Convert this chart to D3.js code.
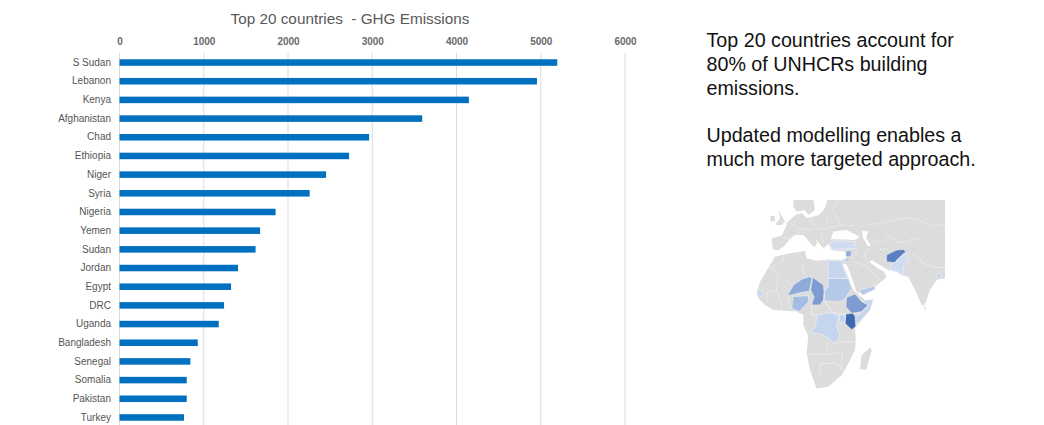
<!DOCTYPE html>
<html>
<head>
<meta charset="utf-8">
<title>Top 20 countries - GHG Emissions</title>
<script src="https://cdn.jsdelivr.net/npm/d3@7"></script>
<style>
    html, body { margin: 0; padding: 0; background: #fff; }
    svg { display: block; font-family: "Liberation Sans", Arial, sans-serif; }
</style>
</head>
<body>
<div id="chart"></div>
<script>
// Bar chart values
const countries = ["S Sudan", "Lebanon", "Kenya", "Afghanistan", "Chad", "Ethiopia", "Niger", "Syria", "Nigeria", "Yemen",
    "Sudan", "Jordan", "Egypt", "DRC", "Uganda", "Bangladesh", "Senegal", "Somalia", "Pakistan", "Turkey"];
const emissions = [5196, 4955, 4147, 3593, 2963, 2725, 2452, 2257, 1853, 1669,
    1615, 1407, 1324, 1241, 1178, 929, 841, 798, 798, 766];
const xTicks = [0, 1000, 2000, 3000, 4000, 5000, 6000];

const chartTitle = "Top 20 countries  - GHG Emissions";
const noteLines = ["Top 20 countries account for", "80% of UNHCRs building", "emissions.", "",
    "Updated modelling enables a", "much more targeted approach."];

// Map outlines, traced as [lon, lat]
const landMain = [[0,51],[5,55.3],[9,56.2],[12,53.6],[19,55.3],[22.6,58.8],[24,63.1],[93.5,63.1],[93.5,22.3],[90.5,21.8],
    [88.6,21.5],[84.6,16.3],[82.7,11],[81.3,8.5],[79.7,8.5],[76.8,14.5],[73.8,19.7],[71.8,23.2],[68.9,23.6],[65,25.8],
    [60,26.7],[55,29.3],[50.2,31.9],[48.8,31],[54.1,27.5],[57.5,25.8],[59,22.9],[52.2,18],[44.3,14.2],[41.3,15.4],
    [36.4,27.6],[35,29.8],[33,29.8],[35.4,25],[39.4,16.3],[44.3,12.5],[46.3,11],[51.2,11.4],[49.2,5.9],[40.4,-3.7],
    [40.8,-9.8],[40.4,-15],[35.4,-23.7],[32.5,-28],[24.6,-34.1],[17.7,-35],[13.8,-25.4],[11.8,-16.7],[12.8,-8],[9.9,-2],
    [9.9,3.2],[5.9,5],[-1.9,5.6],[-7.9,5.9],[-12.8,8.5],[-16.7,12],[-17.7,14.5],[-15.7,20.6],[-12.8,24.9],[-9.8,29.3],
    [-6.9,33.6],[2,35.4],[10.8,36.6],[11.8,32.8],[17.7,31.5],[24.6,32.2],[32.5,31.9],[35,32.8],[35.4,36.2],[26.6,36.8],
    [24.6,40.2],[21.7,38],[16.7,43.2],[18.1,40.6],[16.2,38.5],[9.9,44.9],[4.9,44.9],[2.4,43.2],[-1.9,38.8],[-4.9,37],
    [-8.2,37.5],[-8.8,43.2],[-2.9,44.6],[0,50]];
const landOther = [
    [[-4.9,58],[-1,51.9],[-2.9,50.1],[-6.9,50.1],[-3.9,53.6]],
    [[-9.5,54.8],[-7,54.8],[-7,52],[-9.5,52]],
    [[5.9,57],[10.8,58],[12.8,55.3],[16.7,57.9],[15.8,63.1],[4,63.1],[4,59.7]],
    [[49.6,-13.6],[50.2,-15.3],[46.9,-25.4],[43.3,-24.9],[44.3,-17.6]],
    [[81.3,8.5],[81.9,7.2],[82.3,6.2],[81.1,6.2]]
];
const seas = [
    [[26,42.7],[27.6,46.7],[35.4,47.5],[43.3,44],[40.4,42.3],[30.5,42.7]],
    [[44.3,47.2],[48.2,46.7],[46.9,43.2],[49.6,39.7],[48.2,38.8],[45.3,43.2]]
];
const borderLines = [
    [[47,50],[55,51],[61,52],[70,54],[77,53],[83,50.5],[87,49.5],[93.5,50.5]],
    [[52,42],[56,41],[60,44.5],[66,41],[70,41],[74,43],[80,42.5]],
    [[74,35],[78,33],[81,30],[88,28],[93.5,28]],
    [[49,38],[46,35],[48,30]], [[54,37],[59,38],[61,36]],
    [[39,31],[47,29],[51,24.5],[55,22],[52,19]], [[39,33],[42,37]],
    [[-1.5,35],[-2,32],[-8.7,27.6],[-13,27.6]], [[-8.7,27.6],[-5,25],[-6,16],[-12,15]], [[-5,25],[3,19],[4,19]],
    [[9,30],[10,25],[12,23.5]], [[-12,15],[-11,10]], [[-6,16],[-3,10],[-3,5]], [[1,14],[1.5,6]],
    [[14.8,8.5],[15,3],[18,3.2]], [[27,5],[22,10.7]], [[22.6,10.7],[27,5],[31,3.5],[35,4]],
    [[13,-17],[24,-17.5],[24,-11]], [[20,-22],[20,-28],[17,-29]], [[20,-22],[29,-22],[33,-25]], [[24,-17.5],[33,-16]],
    [[30,-11],[40,-10.5]], [[33,-16],[32,-26]],
    [[2,51],[6,49],[8,48],[13,48],[17,48],[23,48],[30,50],[40,50]], [[14,54],[15,51],[18,49.5]], [[24,54],[24,50]],
    [[28,56],[31,52]], [[-1.8,43.3],[3,42.5]], [[7,44],[7,47]], [[20,46],[22,41]], [[27,58],[28,60],[30,63]]
];

// Highlighted countries on the map
const mapCountries = [
    {name: "Turkey", shade: "#d0ddf1", outline: [[25.2,40.6],[29.5,42],[40.4,41.4],[41.3,38],[31.5,37.4],[26.6,37.1]]},
    {name: "Syria", shade: "#8ea9d6", outline: [[35,36.6],[38.4,36.7],[37.8,33.6],[35,33.6]]},
    {name: "Jordan", shade: "#b5c8e7", outline: [[35,33.1],[37.4,32.8],[36.4,31],[35,30.5]]},
    {name: "Egypt", shade: "#c6d5ee", outline: [[24.6,31.5],[32.5,31.5],[33.9,26.7],[36.4,22.3],[24.6,22.3]]},
    {name: "Sudan", shade: "#b5c8e7", outline: [[24.6,22.3],[36.4,22.3],[38.4,17.1],[36.4,14.5],[34.5,11.9],[31.5,10.2],[22.6,10.7],[22.1,15.4],[24.6,18]]},
    {name: "Chad", shade: "#7f9cd0", outline: [[15.4,22.9],[21.7,18.9],[22.1,15.4],[21.7,11],[19.7,8.5],[14.8,8.5],[16.2,12.8],[14.2,16.3]]},
    {name: "Niger", shade: "#8eaad8", outline: [[13.4,23.2],[15,22.3],[13.4,15.7],[6,14.5],[0.4,13.1],[4,18.9],[8.9,21.8]]},
    {name: "Nigeria", shade: "#a4bce2", outline: [[3.9,12.8],[12.8,13.3],[12.8,10.2],[7.5,5],[3,6.7]]},
    {name: "Ethiopia", shade: "#7f9cd0", outline: [[35.4,12.4],[40.4,14.2],[44.3,10.2],[48.2,8.5],[44.3,5],[38.4,4.1],[35,7.6]]},
    {name: "Somalia", shade: "#c6d5ee", outline: [[44.9,10.5],[51.2,11.4],[49.2,5.9],[41.3,-2],[40.4,2],[44.3,4.6],[48.6,8.1]]},
    {name: "Kenya", shade: "#3f68b0", outline: [[35,3.8],[39,4.1],[40.4,2.7],[40.8,-2.8],[38.4,-4.4],[34.5,-1.1]]},
    {name: "Uganda", shade: "#c6d5ee", outline: [[31.1,3.2],[34.7,3.6],[34.5,-0.8],[31.1,-0.8]]},
    {name: "DRC", shade: "#c6d5ee", outline: [[18.1,3.2],[26.6,4.5],[31.1,2.7],[29.5,-2],[31.5,-8],[28.6,-11.9],[23.6,-8],[19.7,-6.6],[13.8,-6],[16.7,-3.2]]},
    {name: "Yemen", shade: "#b5c8e7", outline: [[43.3,16.3],[52.2,18.4],[52.2,16.6],[44.7,13.5]]},
    {name: "Afghanistan", shade: "#5a7fbe", outline: [[59,34.5],[65,37.1],[68.9,37.4],[70.3,36.2],[65,31.9],[64,30.5],[59,31]]},
    {name: "Pakistan", shade: "#d0ddf1", outline: [[64,30.5],[68.9,35],[71.5,35],[71.9,31.9],[68.9,28.8],[68.9,23.6],[65,25.8],[61,26.7],[61.4,29.3]]},
    {name: "Bangladesh", shade: "#c6d5ee", outline: [[88.6,24.9],[90.9,24.9],[90.9,22.3],[89,21.8]]},
    {name: "Senegal", shade: "#c6d5ee", outline: [[-17.7,16.3],[-14.7,15.9],[-13.8,13.1],[-16.7,13.1]]}
];

const width = 1044;
const height = 425;

var svg = d3.select("#chart")
    .append("svg")
    .attr("width", width)
    .attr("height", height);

// Define scales
var xScale = d3.scaleLinear()
    .domain([0, 6000])
    .range([119.5, 625]);

var yScale = d3.scaleBand()
    .domain(countries)
    .range([53.2, 426.8])
    .paddingInner(0.65)
    .paddingOuter(0.325);

// Vertical gridlines
svg.selectAll(".grid")
    .data(xTicks)
    .enter()
        .append("line")
        .attr("class", "grid")
        .attr("x1", d => xScale(d))
        .attr("x2", d => xScale(d))
        .attr("y1", 53)
        .attr("y2", height)
        .attr("stroke", "#dcdcdc")
        .attr("stroke-width", 1);

// Axes, both without lines
var xAxis = d3.axisTop(xScale).tickValues(xTicks).tickSize(0).tickPadding(0).tickFormat(d3.format("d"));
var yAxis = d3.axisLeft(yScale).tickSize(0).tickPadding(8.5);

var xAxisG = svg.append("g")
    .attr("class", "x-axis")
    .attr("transform", "translate(0,44.5)")
    .call(xAxis);

var yAxisG = svg.append("g")
    .attr("class", "y-axis")
    .attr("transform", "translate(119.5,0)")
    .call(yAxis);

svg.selectAll(".domain").remove();
xAxisG.selectAll("text")
    .attr("font-family", "Liberation Sans, Arial, sans-serif")
    .attr("font-size", 10)
    .attr("font-weight", "bold")
    .attr("fill", "#6a6a6a");
yAxisG.selectAll("text")
    .attr("font-family", "Liberation Sans, Arial, sans-serif")
    .attr("font-size", 10)
    .attr("fill", "#555");

// Bars
svg.selectAll(".bar")
    .data(countries)
    .enter()
        .append("rect")
        .attr("class", "bar")
        .attr("x", xScale(0))
        .attr("y", d => yScale(d))
        .attr("width", (d, i) => xScale(emissions[i]) - xScale(0))
        .attr("height", yScale.bandwidth())
        .attr("fill", "#0070c0");

// Title
svg.append("text")
    .attr("x", 350)
    .attr("y", 24)
    .attr("text-anchor", "middle")
    .attr("font-size", 15.3)
    .attr("fill", "#595959")
    .style("white-space", "pre")
    .text(chartTitle);

// Note on the right
svg.selectAll(".note")
    .data(noteLines)
    .enter()
        .append("text")
        .attr("class", "note")
        .attr("x", 706.5)
        .attr("y", (d, i) => 47 + i * 23.8)
        .attr("font-size", 19.7)
        .attr("fill", "#111")
        .text(d => d);

// Map, drawn through plain lon/lat scales
var lonScale = d3.scaleLinear().domain([-17.5, 51]).range([757, 873]);
var latScale = d3.scaleLinear().domain([14.7, -34.8]).range([293, 388]);

var ring = d3.line()
    .x(d => lonScale(d[0]))
    .y(d => latScale(d[1]))
    .curve(d3.curveLinearClosed);
var border = d3.line()
    .x(d => lonScale(d[0]))
    .y(d => latScale(d[1]));

svg.append("filter")
    .attr("id", "soft")
    .append("feGaussianBlur")
    .attr("stdDeviation", 0.5);

var map = svg.append("g")
    .attr("class", "map")
    .attr("filter", "url(#soft)");

map.selectAll(".land")
    .data([landMain].concat(landOther))
    .enter()
        .append("path")
        .attr("class", "land")
        .attr("d", ring)
        .attr("fill", "#dcdcdc");

map.selectAll(".sea")
    .data(seas)
    .enter()
        .append("path")
        .attr("class", "sea")
        .attr("d", ring)
        .attr("fill", "#fff");

map.selectAll(".border")
    .data(borderLines)
    .enter()
        .append("path")
        .attr("class", "border")
        .attr("d", border)
        .attr("fill", "none")
        .attr("stroke", "#f2f2f2")
        .attr("stroke-width", 0.6);

map.selectAll(".country")
    .data(mapCountries)
    .enter()
        .append("path")
        .attr("class", "country")
        .attr("d", d => ring(d.outline))
        .attr("fill", d => d.shade)
        .attr("stroke", "#f4f6fb")
        .attr("stroke-width", 0.5);
</script>
</body>
</html>
